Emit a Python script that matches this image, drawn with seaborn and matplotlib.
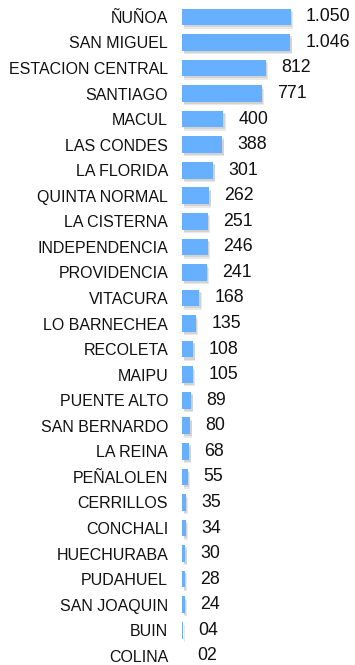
import matplotlib
matplotlib.use("Agg")
import matplotlib.pyplot as plt
import matplotlib.patheffects as pe
import seaborn as sns
import pandas as pd

comunas = ["ÑUÑOA", "SAN MIGUEL", "ESTACION CENTRAL", "SANTIAGO", "MACUL",
           "LAS CONDES", "LA FLORIDA", "QUINTA NORMAL", "LA CISTERNA",
           "INDEPENDENCIA", "PROVIDENCIA", "VITACURA", "LO BARNECHEA",
           "RECOLETA", "MAIPU", "PUENTE ALTO", "SAN BERNARDO", "LA REINA",
           "PEÑALOLEN", "CERRILLOS", "CONCHALI", "HUECHURABA", "PUDAHUEL",
           "SAN JOAQUIN", "BUIN", "COLINA"]
casos = [1050, 1046, 812, 771, 400, 388, 301, 262, 251, 246, 241, 168, 135,
         108, 105, 89, 80, 68, 55, 35, 34, 30, 28, 24, 4, 2]
etiquetas = ["1.050", "1.046", "812", "771", "400", "388", "301", "262", "251",
             "246", "241", "168", "135", "108", "105", "89", "80", "68", "55",
             "35", "34", "30", "28", "24", "04", "02"]

df = pd.DataFrame({"comuna": comunas, "casos": casos})

sns.set_theme(style="white")
plt.rcParams["font.family"] = ["Liberation Sans", "DejaVu Sans"]

fig = plt.figure(figsize=(3.55, 6.65), dpi=100)
ax = fig.add_axes([0.513, 0.0, 0.487, 1.0])

sns.barplot(data=df, x="casos", y="comuna", orient="h", color="#66B0FF",
            saturation=1, width=0.65, ax=ax)

# soft drop shadow beneath each bar
shadow = [pe.SimplePatchShadow(offset=(1.5, -2.5), shadow_rgbFace="#888888", alpha=0.18),
          pe.SimplePatchShadow(offset=(1, -1.5), shadow_rgbFace="#777777", alpha=0.2),
          pe.Normal()]
for bar in ax.patches:
    bar.set_edgecolor("none")
    bar.set_path_effects(shadow)

for i, (v, t) in enumerate(zip(casos, etiquetas)):
    ax.text(v + 148, i, t, ha="left", va="center", fontsize=12.8, color="#111111")

ax.set_xlim(0, 1673)
ax.set_ylim(25.36, -0.66)
ax.set_xlabel("")
ax.set_ylabel("")
ax.set_xticks([])
ax.tick_params(axis="y", length=0, pad=10, labelsize=11.5, labelcolor="#111111")
for s in ax.spines.values():
    s.set_visible(False)

fig.savefig("out.png", dpi=100)
